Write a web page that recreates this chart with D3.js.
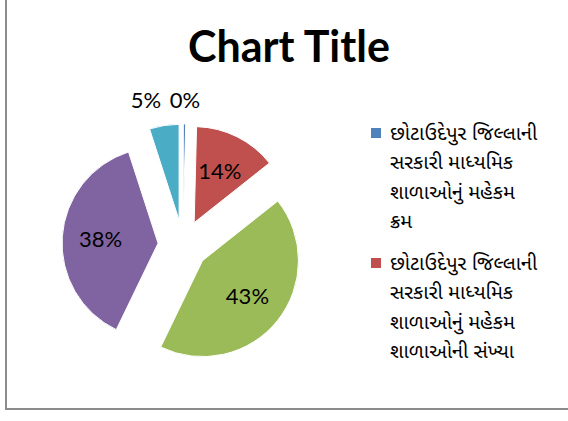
<!DOCTYPE html>
<html>
<head>
<meta charset="utf-8">
<script src="https://cdn.jsdelivr.net/npm/d3@7"></script>
<style>
  html, body { margin: 0; padding: 0; background: #fff; }
  svg { display: block; }
</style>
</head>
<body>
<svg id="chart"></svg>
<script>
const width = 568;
const height = 421;

// data
const sliceNames = ["A", "B", "C", "D", "E"];
const sliceValues = [0.4, 14, 43, 38, 5];
const sliceColors = ["#4F81BD", "#C0504D", "#9BBB59", "#8064A2", "#4BACC6"];
const legendColors = ["#4F81BD", "#C0504D"];
const legendLines = [
  ["છોટાઉદેપુર જિલ્લાની", "સરકારી માધ્યમિક", "શાળાઓનું મહેકમ", "ક્રમ"],
  ["છોટાઉદેપુર જિલ્લાની", "સરકારી માધ્યમિક", "શાળાઓનું મહેકમ", "શાળાઓની સંખ્યા"]
];
const title = "Chart Title";

const svg = d3.select("#chart")
  .attr("width", width)
  .attr("height", height);

// chart border (cropped on top and right)
svg.append("rect")
  .attr("x", 6).attr("y", -10)
  .attr("width", width + 20).attr("height", 419)
  .attr("fill", "none")
  .attr("stroke", "#8c8c8c")
  .attr("stroke-width", 2);

// title
svg.append("text")
  .attr("x", 289)
  .attr("y", 62)
  .attr("text-anchor", "middle")
  .attr("font-family", "Lato, 'Open Sans', sans-serif")
  .attr("font-weight", "bold")
  .attr("font-size", 43)
  .attr("fill", "#000")
  .text(title);

// pie
const cx = 183, cy = 245;
const radius = 96;
const explode = 25;

const pie = d3.pie().sort(null).value(d => d);
const arcs = pie(sliceValues);
const total = d3.sum(sliceValues);
const arc = d3.arc().innerRadius(0).outerRadius(radius);
const labelArc = d3.arc().innerRadius(radius * 0.6).outerRadius(radius * 0.6);
const outerLabelArc = d3.arc().innerRadius(radius + 24).outerRadius(radius + 24);

const offset = d => {
  const a = (d.startAngle + d.endAngle) / 2;
  return [explode * Math.sin(a), -explode * Math.cos(a)];
};

const g = svg.append("g").attr("transform", `translate(${cx},${cy})`);

g.selectAll("path")
  .data(arcs)
  .join("path")
  .attr("transform", d => `translate(${offset(d)})`)
  .attr("d", arc)
  .attr("fill", (d, i) => sliceColors[i])
  .attr("stroke", "#fff")
  .attr("stroke-width", 1);

// labels: inside for big slices, outside for small ones
const labelData = arcs.map((d, i) => {
  const pct = d.value / total;
  const o = offset(d);
  const c = pct > 0.1 ? labelArc.centroid(d) : outerLabelArc.centroid(d);
  return { text: Math.round(pct * 100) + "%", x: c[0] + o[0], y: c[1] + o[1], outside: pct <= 0.1 };
});
// avoid overlap of outside labels
const outside = labelData.filter(d => d.outside);
for (let i = 1; i < outside.length; i++) {
  const prev = outside[0];
  const cur = outside[i];
  if (Math.abs(cur.x - prev.x) < 40) {
    cur.x = prev.x - 39;
    cur.y = prev.y;
  }
}

g.selectAll("text")
  .data(labelData)
  .join("text")
  .attr("x", d => d.x)
  .attr("y", d => d.y)
  .attr("dy", "0.35em")
  .attr("text-anchor", "middle")
  .attr("font-family", "Lato, 'Open Sans', sans-serif")
  .attr("font-size", 22)
  .attr("fill", "#000")
  .text(d => d.text);

// legend
const legend = svg.append("g").attr("transform", "translate(371,0)");
const lineH = 29.3;
const entryTops = [140, 270];
legendLines.forEach((lines, i) => {
  legend.append("rect")
    .attr("x", 0)
    .attr("y", entryTops[i] - 12)
    .attr("width", 10)
    .attr("height", 10)
    .attr("fill", legendColors[i]);
  lines.forEach((ln, j) => {
    legend.append("text")
      .attr("x", 19)
      .attr("y", entryTops[i] + j * lineH)
      .attr("font-family", "'Noto Sans Gujarati', 'Noto Sans', sans-serif")
      .attr("font-size", 20)
      .attr("fill", "#000")
      .text(ln);
  });
});
</script>
</body>
</html>
